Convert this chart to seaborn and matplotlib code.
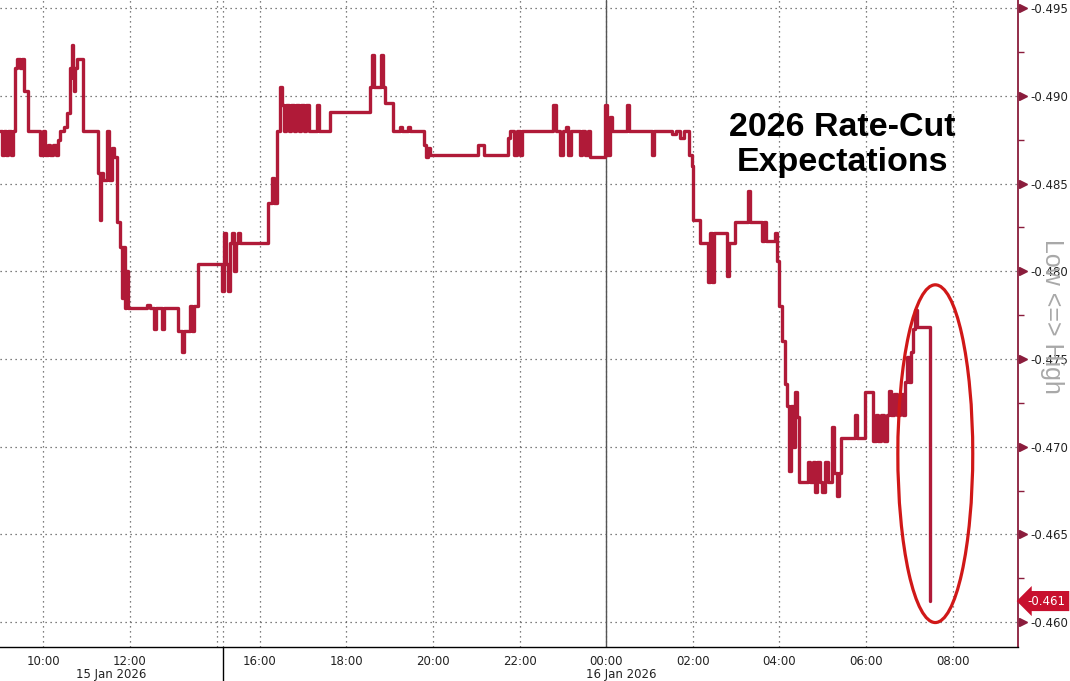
#!/usr/bin/env python3
"""2026 rate-cut expectations, Bloomberg style intraday step chart."""

import numpy as np
import matplotlib.pyplot as plt
import seaborn as sns
import pandas as pd
from matplotlib.patches import Ellipse
from matplotlib.ticker import MultipleLocator
import matplotlib.transforms as mtransforms

# chart hours counted from 09:00 on 15 Jan (the ~1h session break after 14:00 is collapsed)
hours = [
    0.00, 0.05, 0.09, 0.14, 0.18, 0.25, 0.30, 0.35, 0.39, 0.46, 0.51, 0.55, 0.65,
    0.92, 0.99, 1.04, 1.11, 1.15, 1.22, 1.29, 1.34, 1.39, 1.48, 1.55, 1.62, 1.66,
    1.69, 1.71, 1.73, 1.78, 1.92, 2.26, 2.31, 2.33, 2.38, 2.47, 2.52, 2.59, 2.63,
    2.70, 2.77, 2.82, 2.84, 2.89, 2.91, 2.96, 3.39, 3.46, 3.56, 3.60, 3.74, 3.79,
    4.11, 4.20, 4.25, 4.39, 4.43, 4.48, 4.57, 5.13, 5.17, 5.22, 5.27, 5.31, 5.36,
    5.40, 5.45, 5.50, 5.54, 6.19, 6.28, 6.33, 6.40, 6.47, 6.51, 6.56, 6.61, 6.67,
    6.72, 6.79, 6.84, 6.91, 6.95, 7.02, 7.07, 7.14, 7.32, 7.37, 7.62, 8.55, 8.59,
    8.64, 8.80, 8.85, 8.89, 9.08, 9.24, 9.28, 9.42, 9.47, 9.79, 9.84, 9.88, 9.93,
    11.04, 11.18, 11.73, 11.78, 11.87, 11.94, 12.01, 12.06, 12.77, 12.84, 12.93,
    13.00, 13.07, 13.12, 13.19, 13.39, 13.44, 13.51, 13.58, 13.63, 13.97, 14.02,
    14.09, 14.13, 14.48, 14.53, 15.06, 15.10, 15.52, 15.61, 15.70, 15.80, 15.91,
    15.98, 16.00, 16.17, 16.35, 16.40, 16.44, 16.49, 16.79, 16.84, 16.97, 17.27,
    17.32, 17.60, 17.64, 17.69, 17.90, 17.94, 17.99, 18.06, 18.13, 18.18, 18.22,
    18.27, 18.31, 18.36, 18.41, 18.45, 18.66, 18.71, 18.78, 18.82, 18.87, 18.94,
    18.98, 19.05, 19.12, 19.21, 19.26, 19.33, 19.38, 19.42, 19.75, 19.79, 19.98,
    20.16, 20.23, 20.28, 20.35, 20.42, 20.48, 20.53, 20.58, 20.65, 20.72, 20.79,
    20.86, 20.90, 20.95, 20.99, 21.04, 21.09, 21.13, 21.18, 21.48,
]
values = [
    -0.4880, -0.4866, -0.4880, -0.4866, -0.4880, -0.4866, -0.4880, -0.4916, -0.4921, -0.4916, -0.4921, -0.4903, -0.4880,
    -0.4866, -0.4880, -0.4866, -0.4872, -0.4866, -0.4872, -0.4866, -0.4875, -0.4880, -0.4882, -0.4890, -0.4916, -0.4929,
    -0.4910, -0.4903, -0.4916, -0.4921, -0.4880, -0.4856, -0.4829, -0.4856, -0.4852, -0.4880, -0.4852, -0.4870, -0.4865,
    -0.4828, -0.4814, -0.4785, -0.4814, -0.4779, -0.4800, -0.4779, -0.4781, -0.4779, -0.4767, -0.4779, -0.4767, -0.4779,
    -0.4766, -0.4754, -0.4766, -0.4780, -0.4766, -0.4780, -0.4804, -0.4789, -0.4822, -0.4804, -0.4789, -0.4816, -0.4822,
    -0.4800, -0.4816, -0.4822, -0.4816, -0.4839, -0.4853, -0.4839, -0.4880, -0.4905, -0.4895, -0.4880, -0.4895, -0.4880,
    -0.4895, -0.4880, -0.4895, -0.4880, -0.4895, -0.4880, -0.4895, -0.4880, -0.4895, -0.4880, -0.4891, -0.4905, -0.4923,
    -0.4905, -0.4923, -0.4905, -0.4896, -0.4880, -0.4882, -0.4880, -0.4882, -0.4880, -0.4872, -0.4865, -0.4870, -0.4866,
    -0.4872, -0.4866, -0.4876, -0.4880, -0.4866, -0.4880, -0.4866, -0.4880, -0.4895, -0.4880, -0.4866,
    -0.4880, -0.4882, -0.4866, -0.4880, -0.4866, -0.4880, -0.4866, -0.4880, -0.4865, -0.4895, -0.4866,
    -0.4888, -0.4880, -0.4895, -0.4880, -0.4866, -0.4880, -0.4878, -0.4880, -0.4876, -0.4880, -0.4866,
    -0.4860, -0.4829, -0.4816, -0.4794, -0.4822, -0.4794, -0.4822, -0.4797, -0.4816, -0.4828, -0.4846,
    -0.4828, -0.4817, -0.4828, -0.4817, -0.4822, -0.4806, -0.4780, -0.4760, -0.4736, -0.4723, -0.4686,
    -0.4723, -0.4700, -0.4731, -0.4717, -0.4680, -0.4691, -0.4680, -0.4691, -0.4674, -0.4691, -0.4680,
    -0.4674, -0.4691, -0.4680, -0.4711, -0.4685, -0.4672, -0.4685, -0.4705, -0.4718, -0.4705, -0.4731,
    -0.4703, -0.4718, -0.4703, -0.4718, -0.4703, -0.4718, -0.4732, -0.4718, -0.4730, -0.4718, -0.4730,
    -0.4718, -0.4737, -0.4751, -0.4737, -0.4754, -0.4767, -0.4778, -0.4768, -0.4612,
]

x_tick_pos = [1, 3, 5, 6, 8, 10, 12, 14, 16, 18, 20, 22]
x_tick_labels = ['10:00', '12:00', '', '16:00', '18:00', '20:00', '22:00',
                 '00:00', '02:00', '04:00', '06:00', '08:00']
x_minor_pos = [2, 4, 7, 9, 11, 13, 15, 17, 19, 21, 23]
y_ticks = [-0.495, -0.490, -0.485, -0.480, -0.475, -0.470, -0.465, -0.460]
day_labels = ['15 Jan 2026', '16 Jan 2026']
day_label_pos = [2.56, 14.34]
session_break = 5.15
midnight = 14

LINE_RED = '#b01a38'
MAROON = '#8a1c3c'
TAG_RED = '#c8102e'
CIRCLE_RED = '#d01818'
GRID = '#555555'

sns.set_style('white')
plt.rcParams['axes.unicode_minus'] = False
plt.rcParams['font.family'] = ['DejaVu Sans']

fig = plt.figure(figsize=(10.7, 6.81), dpi=100)
fig.patch.set_facecolor('white')
ax = fig.add_axes([0.0, 0.0499, 0.9514, 0.9501])

df = pd.DataFrame({'t': hours, 'v': values})
sns.lineplot(data=df, x='t', y='v', ax=ax, color=LINE_RED, linewidth=2.4,
             drawstyle='steps-post', estimator=None, sort=False, zorder=5)
ax.set_xlabel('')
ax.set_ylabel('')

ax.set_xlim(0, 23.51)
ax.set_ylim(-0.45858, -0.49546)  # inverted: lower yields at the bottom

# x axis
ax.set_xticks(x_tick_pos)
ax.set_xticklabels(x_tick_labels)
ax.set_xticks(x_minor_pos, minor=True)
ax.tick_params(axis='x', which='both', direction='out', length=4, width=0.8,
               color='black', pad=2, labelsize=8.5, labelcolor='#222222')

# y axis on the right
ax.yaxis.tick_right()
ax.set_yticks(y_ticks)
ax.set_yticklabels([f'{v:.3f}' for v in y_ticks])
ax.yaxis.set_minor_locator(MultipleLocator(0.0025))
ax.tick_params(axis='y', which='major', length=0, pad=9, labelsize=8.5,
               labelcolor='#222222')
ax.tick_params(axis='y', which='minor', direction='out', length=4, width=1,
               color=MAROON)

# triangle markers for the major y ticks
tri_tf = mtransforms.offset_copy(ax.get_yaxis_transform(), fig=fig, x=5, units='dots')
ax.plot([1.0] * len(y_ticks), y_ticks, ls='none', marker='>', ms=6,
        color=MAROON, transform=tri_tf, clip_on=False, zorder=6)

# grid
ax.grid(True, which='major', axis='both', color=GRID, linestyle=(0, (1, 3)), linewidth=0.9)
ax.axvline(session_break, color=GRID, linestyle=(0, (1, 3)), linewidth=0.9)
ax.axvline(midnight, color='#555555', linewidth=1.0, zorder=2)
ax.plot([session_break, session_break], [0, -0.06], color='black', lw=1.0,
        transform=ax.get_xaxis_transform(), clip_on=False)

for side in ['left', 'top']:
    ax.spines[side].set_visible(False)
ax.spines['bottom'].set_color('black')
ax.spines['bottom'].set_linewidth(1.0)
ax.spines['right'].set_color(MAROON)
ax.spines['right'].set_linewidth(1.3)

# day labels under the time ticks
for pos, lab in zip(day_label_pos, day_labels):
    ax.text(pos, -0.043, lab, transform=ax.get_xaxis_transform(), ha='center',
            va='center', fontsize=8.5, color='#222222')

# last value tag
ax.annotate(f'{values[-1]:.3f}', xy=(1.0, values[-1]), xycoords=ax.get_yaxis_transform(),
            xytext=(7, 0), textcoords='offset points', ha='left', va='center',
            color='white', fontsize=8.5,
            bbox=dict(boxstyle='larrow,pad=0.3', fc=TAG_RED, ec='none'),
            annotation_clip=False, zorder=7)

ax.text(1.0334, 0.5116, 'Low <=> High', transform=ax.transAxes, rotation=-90,
        ha='center', va='center', color='#a8a8a8', fontsize=18,
        family='Liberation Sans', zorder=1)

ax.text(19.45, -0.4872, '2026 Rate-Cut\nExpectations', ha='center', va='center',
        fontsize=24.5, fontweight='bold', family='Liberation Sans',
        linespacing=1.15, color='black', zorder=8)

# highlight of the late drop
ax.add_patch(Ellipse((21.6, -0.4696), width=1.73, height=0.01925, fill=False,
                     ec=CIRCLE_RED, lw=2.3, zorder=9, clip_on=False))

fig.savefig('out.png', dpi=100, facecolor='white')
